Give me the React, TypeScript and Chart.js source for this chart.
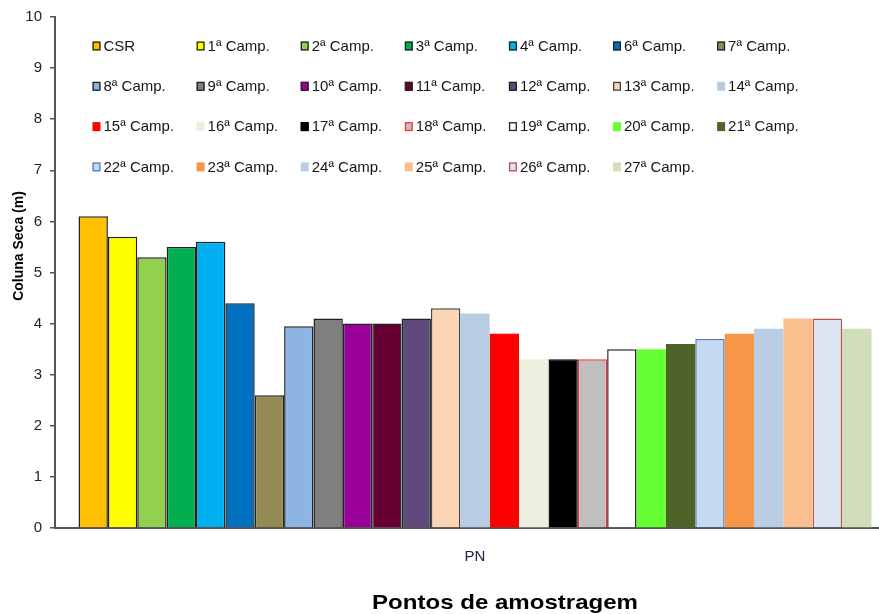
import React, { useEffect, useRef } from "react";
import { Chart, registerables } from "chart.js";

Chart.register(...registerables);

const categories = ["PN"];

const seriesLabels = [
  "CSR", "1ª Camp.", "2ª Camp.", "3ª Camp.", "4ª Camp.", "6ª Camp.", "7ª Camp.",
  "8ª Camp.", "9ª Camp.", "10ª Camp.", "11ª Camp.", "12ª Camp.", "13ª Camp.", "14ª Camp.",
  "15ª Camp.", "16ª Camp.", "17ª Camp.", "18ª Camp.", "19ª Camp.", "20ª Camp.", "21ª Camp.",
  "22ª Camp.", "23ª Camp.", "24ª Camp.", "25ª Camp.", "26ª Camp.", "27ª Camp.",
];

const seriesValues = [
  6.1, 5.7, 5.3, 5.5, 5.6, 4.4, 2.6,
  3.95, 4.1, 4.0, 4.0, 4.1, 4.3, 4.2,
  3.8, 3.3, 3.3, 3.3, 3.5, 3.5, 3.6,
  3.7, 3.8, 3.9, 4.1, 4.1, 3.9,
];

const fillColors = [
  "#FFC000", "#FFFF00", "#92D050", "#00B050", "#00B0F0", "#0070C0", "#948A54",
  "#8DB4E2", "#808080", "#990099", "#660033", "#604A7B", "#FCD5B4", "#B8CCE4",
  "#FF0000", "#EBF1DE", "#000000", "#BFBFBF", "#FFFFFF", "#66FF33", "#4F6228",
  "#C5D9F1", "#F79646", "#B9CDE5", "#FABF8F", "#DCE6F2", "#D2DEBB",
];

const borderColors = [
  "#222222", "#222222", "#222222", "#222222", "#222222", "#222222", "#222222",
  "#222222", "#222222", "#222222", "#222222", "#222222", "#444444", null,
  null, null, "#000000", "#FF3333", "#222222", null, null,
  "#4F81BD", null, null, null, "#C0504D", null,
];

const yTicks = [0, 1, 2, 3, 4, 5, 6, 7, 8, 9, 10];
const yTitle = "Coluna Seca (m)";
const xTitle = "Pontos de amostragem";

const FONT = "'Liberation Sans', Arial, Helvetica, sans-serif";

const overlayPlugin = {
  id: "overlay",
  afterDatasetsDraw(chart: any) {
    const ctx = chart.ctx as CanvasRenderingContext2D;
    const ds = chart.data.datasets;
    ctx.save();
    // Legend grid inside chart area
    const x0 = 92.5;
    const colStep = 104.1;
    const y0 = 46;
    const rowStep = 40.3;
    ctx.font = `15px ${FONT}`;
    ctx.textBaseline = "middle";
    ctx.textAlign = "left";
    ds.forEach((d: any, i: number) => {
      const col = i % 7;
      const row = Math.floor(i / 7);
      const bx = x0 + col * colStep;
      const by = y0 + row * rowStep;
      ctx.fillStyle = d.backgroundColor;
      ctx.fillRect(bx, by - 4.5, 8, 9);
      if (d.borderWidth > 0) {
        ctx.strokeStyle = d.borderColor;
        ctx.lineWidth = 1.3;
        ctx.strokeRect(bx + 0.65, by - 3.85, 6.7, 7.7);
      }
      ctx.fillStyle = "#151515";
      ctx.fillText(d.label, bx + 11, by + 0.5);
    });

    // Y axis title
    ctx.save();
    ctx.translate(19, 246);
    ctx.rotate(-Math.PI / 2);
    ctx.font = `bold 14px ${FONT}`;
    ctx.textAlign = "center";
    ctx.textBaseline = "middle";
    ctx.fillStyle = "#000";
    ctx.fillText(yTitle, 0, 0);
    ctx.restore();

    // X axis title
    ctx.save();
    ctx.font = `bold 21px ${FONT}`;
    const w = ctx.measureText(xTitle).width;
    const target = 266;
    ctx.translate(505, 609);
    ctx.scale(target / w, 1);
    ctx.textAlign = "center";
    ctx.textBaseline = "alphabetic";
    ctx.fillStyle = "#000";
    ctx.fillText(xTitle, 0, 0);
    ctx.restore();

    ctx.restore();
  },
};

export default function App() {
  const ref = useRef<HTMLCanvasElement | null>(null);

  useEffect(() => {
    if (!ref.current) return;
    Chart.defaults.font.family = FONT;
    const datasets = seriesLabels.map((label, i) => ({
      label,
      data: [seriesValues[i]],
      backgroundColor: fillColors[i],
      borderColor: borderColors[i] || fillColors[i],
      borderWidth: borderColors[i] ? 1.5 : 0,
      categoryPercentage: 0.944,
      barPercentage: 1.0,
    }));
    const chart = new Chart(ref.current, {
      type: "bar",
      data: { labels: categories, datasets },
      plugins: [overlayPlugin],
      options: {
        animation: false,
        responsive: false,
        maintainAspectRatio: false,
        layout: { padding: { top: 17, right: 5, left: 0, bottom: 0 } },
        plugins: {
          legend: { display: false },
          tooltip: { enabled: false },
          title: { display: false },
        },
        scales: {
          x: {
            grid: { display: false },
            border: { display: true, color: "#555555", width: 2 },
            ticks: { font: { size: 15 }, color: "#222244", padding: 12 },
            afterFit: (s: any) => {
              s.height = 86;
            },
          },
          y: {
            min: 0,
            max: 10,
            afterBuildTicks: (s: any) => {
              s.ticks = yTicks.map((v) => ({ value: v }));
            },
            ticks: { font: { size: 15 }, color: "#222233", padding: 8 },
            grid: {
              drawOnChartArea: false,
              drawTicks: true,
              tickLength: 5,
              color: "#555555",
              lineWidth: 1.5,
            },
            border: { display: true, color: "#555555", width: 2 },
            afterFit: (s: any) => {
              s.width = 55;
            },
          },
        },
      },
    } as any);
    return () => chart.destroy();
  }, []);

  return (
    <div
      style={{
        position: "fixed",
        left: 0,
        top: 0,
        width: 879,
        height: 614,
        overflow: "hidden",
        background: "#ffffff",
      }}
    >
      <canvas ref={ref} width={900} height={614} style={{ display: "block" }} />
    </div>
  );
}
